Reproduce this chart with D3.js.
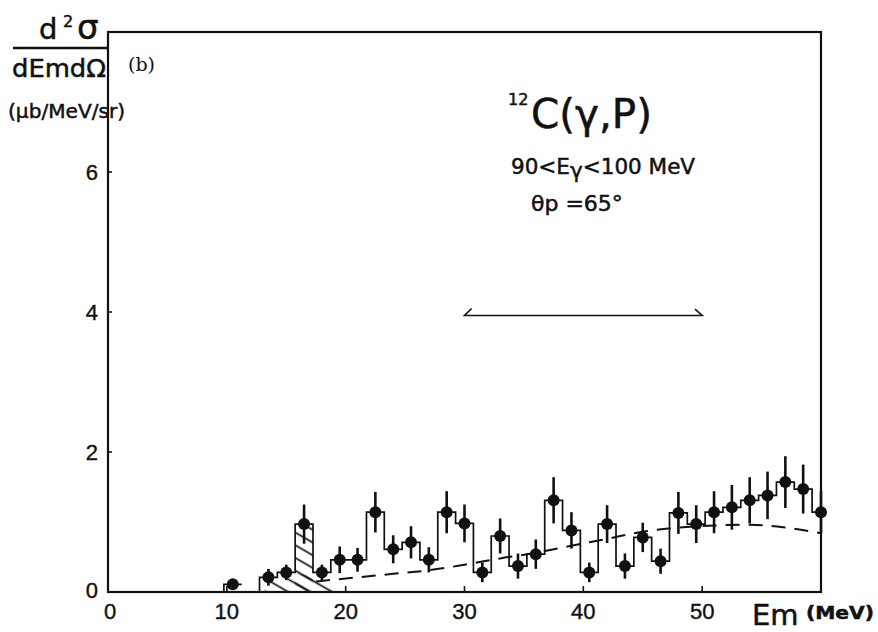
<!DOCTYPE html>
<html lang="en">
<head>
<meta charset="UTF-8">
<title>12C(g,p) missing energy spectrum</title>
<style>
    body { margin: 0; background: #fff; }
    svg { display: block; }
    .num { font-family: "Liberation Sans", Arial, sans-serif; font-size: 22px; fill: #111; stroke: #111; stroke-width: 0.4; }
    .lbl { font-family: "DejaVu Sans", sans-serif; fill: #111; stroke: #111; stroke-width: 0.5; }
</style>
</head>
<body>
<svg width="878" height="632"></svg>
<script src="https://d3js.org/d3.v7.min.js"></script>
<script>
// bin centres (MeV), bin width 1.5 MeV
var binCenters = [13.5, 15, 16.5, 18, 19.5, 21, 22.5, 24, 25.5, 27, 28.5, 30, 31.5, 33, 34.5, 36,
                  37.5, 39, 40.5, 42, 43.5, 45, 46.5, 48, 49.5, 51, 52.5, 54, 55.5, 57, 58.5, 60];
var binValues  = [0.21, 0.28, 0.97, 0.28, 0.46, 0.46, 1.14, 0.61, 0.71, 0.46, 1.14, 0.98, 0.28, 0.80, 0.37, 0.54,
                  1.31, 0.88, 0.28, 0.97, 0.37, 0.78, 0.44, 1.13, 0.97, 1.14, 1.21, 1.31, 1.38, 1.57, 1.47, 1.14];
var binErrors  = [0.12, 0.11, 0.28, 0.11, 0.19, 0.17, 0.29, 0.20, 0.23, 0.18, 0.30, 0.27, 0.14, 0.25, 0.18, 0.21,
                  0.33, 0.26, 0.14, 0.27, 0.18, 0.21, 0.18, 0.30, 0.27, 0.30, 0.32, 0.33, 0.34, 0.37, 0.35, 0.30];
var binWidth = 1.5;

// lone point below the threshold
var lonePoint = { x: 10.5, y: 0.11 };

// hatched contributions
var hatchedBin = 16.5;
var hatchedLow = [[13.2, 0], [13.2, 0.18], [14.25, 0.2], [15.75, 0.27], [17.25, 0.22], [19.8, 0]];

// dashed calculation
var curveX = [17.5, 21, 24, 27, 30, 33, 36, 39, 42, 45, 48, 51, 54, 57, 60];
var curveY = [0.15, 0.21, 0.26, 0.31, 0.39, 0.48, 0.56, 0.66, 0.76, 0.86, 0.92, 0.95, 0.96, 0.92, 0.84];

// range arrow
var arrowRange = [30, 50];
var arrowLevel = 3.95;

var xTicks = [0, 10, 20, 30, 40, 50];
var yTicks = [0, 2, 4, 6];

var svg = d3.select("svg");

var x = d3.scaleLinear().domain([0, 60]).range([108, 821]);
var y = d3.scaleLinear().domain([0, 8]).range([592, 32]);

// hatch pattern
var defs = svg.append("defs");
defs.append("pattern")
    .attr("id", "hatch")
    .attr("patternUnits", "userSpaceOnUse")
    .attr("width", 11).attr("height", 11)
    .attr("patternTransform", "rotate(30)")
    .append("line")
    .attr("x1", 0).attr("y1", 5.5).attr("x2", 11).attr("y2", 5.5)
    .attr("stroke", "#111").attr("stroke-width", 1.7);

var line = d3.line().x(function (d) { return x(d[0]); }).y(function (d) { return y(d[1]); });

// hatched areas
svg.append("path")
    .attr("d", line(hatchedLow) + "Z")
    .attr("fill", "url(#hatch)");
var hb = binValues[binCenters.indexOf(hatchedBin)];
svg.append("path")
    .attr("d", line([[hatchedBin - binWidth / 2, 0], [hatchedBin - binWidth / 2, hb],
                     [hatchedBin + binWidth / 2, hb], [hatchedBin + binWidth / 2, 0]]) + "Z")
    .attr("fill", "url(#hatch)");

// histogram steps
var steps = [[binCenters[0] - binWidth / 2, 0]];
binCenters.forEach(function (c, i) {
    steps.push([c - binWidth / 2, binValues[i]]);
    steps.push([Math.min(c + binWidth / 2, 60), binValues[i]]);
});
svg.append("path")
    .attr("d", line(steps))
    .attr("fill", "none").attr("stroke", "#111").attr("stroke-width", 1.7);

svg.append("path")
    .attr("d", line([[lonePoint.x - binWidth / 2, 0], [lonePoint.x - binWidth / 2, lonePoint.y],
                     [lonePoint.x + binWidth / 2, lonePoint.y]]))
    .attr("fill", "none").attr("stroke", "#111").attr("stroke-width", 1.7);

// dashed curve
svg.append("path")
    .attr("d", d3.line().curve(d3.curveMonotoneX)
        .x(function (d) { return x(d); })
        .y(function (d, i) { return y(curveY[i]); })(curveX))
    .attr("fill", "none").attr("stroke", "#111")
    .attr("stroke-width", 2).attr("stroke-dasharray", "14,9");

// error bars and points
var pts = binCenters.map(function (c, i) { return { x: c, y: binValues[i], e: binErrors[i] }; });
svg.selectAll(".err").data(pts).enter().append("line")
    .attr("x1", function (d) { return x(d.x); })
    .attr("x2", function (d) { return x(d.x); })
    .attr("y1", function (d) { return y(d.y - d.e); })
    .attr("y2", function (d) { return y(d.y + d.e); })
    .attr("stroke", "#111").attr("stroke-width", 2.6);

svg.selectAll(".pt").data(pts.concat([lonePoint])).enter().append("circle")
    .attr("cx", function (d) { return x(d.x); })
    .attr("cy", function (d) { return y(d.y); })
    .attr("r", 6)
    .attr("fill", "#111");

// frame
svg.append("rect")
    .attr("x", x(0)).attr("y", y(8))
    .attr("width", x(60) - x(0)).attr("height", y(0) - y(8))
    .attr("fill", "none").attr("stroke", "#111").attr("stroke-width", 2.2);

// ticks (inside)
svg.selectAll(".xt").data(xTicks.slice(1)).enter().append("line")
    .attr("x1", function (d) { return x(d); }).attr("x2", function (d) { return x(d); })
    .attr("y1", y(0)).attr("y2", y(0) - 6)
    .attr("stroke", "#111").attr("stroke-width", 1.6);
svg.selectAll(".yt").data(yTicks.slice(1)).enter().append("line")
    .attr("x1", x(0)).attr("x2", x(0) + 4)
    .attr("y1", function (d) { return y(d); }).attr("y2", function (d) { return y(d); })
    .attr("stroke", "#111").attr("stroke-width", 1.6);

// tick labels
svg.selectAll(".xl").data(xTicks).enter().append("text")
    .attr("class", "num")
    .attr("x", function (d) { return x(d) + (d === 0 ? 2 : 0); })
    .attr("y", 619)
    .attr("text-anchor", "middle")
    .text(function (d) { return d; });
svg.selectAll(".yl").data(yTicks).enter().append("text")
    .attr("class", "num")
    .attr("x", 98)
    .attr("y", function (d) { return y(d) + (d === 0 ? 6 : 8); })
    .attr("text-anchor", "end")
    .text(function (d) { return d; });

// range arrow
svg.append("path")
    .attr("d", line([[arrowRange[0] + 0.6, arrowLevel + 0.1], [arrowRange[0], arrowLevel],
                     [arrowRange[1], arrowLevel], [arrowRange[1] - 0.6, arrowLevel + 0.09]]))
    .attr("fill", "none").attr("stroke", "#111").attr("stroke-width", 1.6);

// y axis label
svg.append("text").attr("class", "lbl").attr("x", 39).attr("y", 39)
    .attr("font-size", 29).text("d");
svg.append("text").attr("class", "lbl").attr("x", 63).attr("y", 27)
    .attr("font-size", 16).text("2");
svg.append("text").attr("class", "lbl").attr("x", 77).attr("y", 39)
    .attr("font-size", 34).text("σ");
svg.append("line").attr("x1", 13).attr("x2", 108).attr("y1", 48).attr("y2", 48)
    .attr("stroke", "#111").attr("stroke-width", 2.5);
svg.append("text").attr("class", "lbl").attr("x", 12).attr("y", 77)
    .attr("font-size", 24).attr("textLength", 94).attr("lengthAdjust", "spacingAndGlyphs")
    .text("dEmdΩ");
svg.append("text").attr("class", "lbl").attr("x", 8).attr("y", 118)
    .attr("font-size", 20).attr("textLength", 117).attr("lengthAdjust", "spacingAndGlyphs")
    .text("(μb/MeV/sr)");

svg.append("text").attr("x", 128).attr("y", 71)
    .attr("font-family", "DejaVu Serif, serif").attr("font-size", 19).attr("fill", "#111")
    .text("(b)");

// reaction title
svg.append("text").attr("class", "lbl").attr("x", 508).attr("y", 105)
    .attr("font-size", 16).text("12");
svg.append("text").attr("class", "lbl").attr("x", 531).attr("y", 128)
    .attr("font-size", 40).attr("textLength", 121).attr("lengthAdjust", "spacingAndGlyphs")
    .text("C(γ,P)");

var t2 = svg.append("text").attr("class", "lbl").attr("x", 511).attr("y", 174).attr("font-size", 21.5);
t2.append("tspan").text("90<E");
t2.append("tspan").attr("dy", 4).text("γ");
t2.append("tspan").attr("dy", -4).text("<100 MeV");

svg.append("text").attr("class", "lbl").attr("x", 531).attr("y", 211)
    .attr("font-size", 22).text("θp =65°");

// x axis title
svg.append("text").attr("class", "lbl").attr("x", 752).attr("y", 625)
    .attr("font-size", 29).text("Em");
svg.append("text").attr("class", "lbl").attr("x", 806).attr("y", 619)
    .attr("font-size", 17).attr("font-weight", "bold").attr("textLength", 68)
    .attr("lengthAdjust", "spacingAndGlyphs").text("(MeV)");
</script>
</body>
</html>
